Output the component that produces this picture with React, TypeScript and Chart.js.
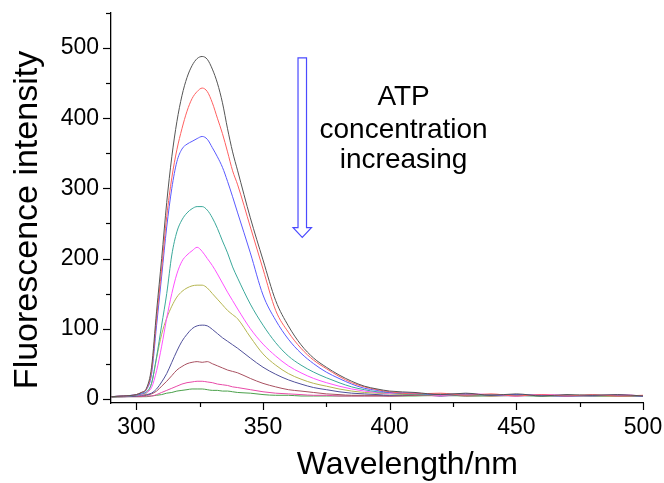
import React, { useEffect, useRef } from "react";
import { Chart, registerables } from "chart.js";

Chart.register(...registerables);

// Wavelength (nm)
const wavelengths = [290, 295, 300, 302, 304, 306, 308, 310, 312, 314, 316, 318, 320, 322, 324, 326, 328, 330, 332, 334, 336, 338, 340, 345, 350, 355, 360, 365, 370, 375, 380, 385, 390, 395, 400, 410, 420, 430, 440, 450, 460, 470, 480, 490, 500];

// Fluorescence intensity, ATP concentration increasing from s1 to s10
const s1 = [3, 4, 6, 9, 15, 45, 125, 200, 280, 345, 395, 432, 458, 475, 485, 488, 484, 470, 450, 422, 385, 352, 325, 258, 198, 140, 104, 77, 58, 45, 34, 25, 18, 14, 11, 9, 6, 8, 5, 7, 4, 6, 5, 6, 4];
const s2 = [3, 4, 6, 9, 14, 40, 115, 185, 260, 315, 355, 385, 410, 428, 438, 443, 438, 422, 400, 378, 352, 325, 305, 245, 185, 126, 95, 72, 55, 43, 32, 23, 17, 13, 10, 7, 8, 5, 7, 4, 6, 4, 6, 4, 5];
const s3 = [3, 4, 6, 8, 13, 35, 105, 175, 245, 300, 338, 356, 363, 367, 371, 374, 370, 358, 345, 330, 310, 288, 265, 208, 148, 112, 85, 65, 50, 38, 29, 21, 15, 12, 9, 8, 6, 7, 5, 6, 5, 4, 5, 5, 4];
const s4 = [3, 4, 5, 7, 10, 22, 60, 105, 150, 205, 238, 255, 265, 271, 274, 274, 269, 258, 243, 225, 208, 188, 172, 135, 105, 80, 61, 48, 38, 30, 23, 17, 13, 10, 9, 6, 7, 5, 6, 5, 4, 5, 4, 5, 4];
const s5 = [3, 4, 5, 6, 9, 16, 40, 75, 115, 150, 178, 196, 205, 211, 216, 210, 200, 190, 178, 165, 152, 140, 128, 100, 78, 61, 47, 37, 29, 23, 18, 14, 11, 9, 8, 8, 5, 7, 6, 4, 6, 5, 4, 6, 4];
const s6 = [3, 4, 5, 6, 8, 22, 58, 92, 115, 132, 145, 153, 158, 161, 162, 162, 158, 150, 142, 134, 126, 120, 114, 88, 64, 48, 36, 28, 22, 18, 14, 11, 9, 8, 7, 6, 5, 6, 4, 5, 4, 5, 4, 4, 4];
const s7 = [3, 3, 4, 5, 6, 8, 14, 24, 36, 52, 68, 82, 92, 100, 104, 105, 104, 99, 93, 87, 82, 77, 72, 58, 45, 35, 27, 21, 16, 13, 10, 8, 7, 6, 5, 6, 4, 5, 5, 4, 5, 4, 5, 4, 4];
const s8 = [3, 3, 4, 4, 5, 7, 11, 18, 25, 33, 41, 46, 50, 52, 53, 52, 53, 50, 47, 44, 41, 39, 37, 29, 22, 17, 13, 11, 9, 7, 6, 5, 5, 5, 4, 5, 6, 4, 5, 6, 4, 5, 4, 5, 4];
const s9 = [3, 3, 3, 3, 4, 4, 6, 9, 12, 15, 18, 21, 23, 24, 25, 25, 24, 23, 21, 20, 19, 17, 16, 13, 10, 8, 7, 6, 5, 5, 4, 4, 4, 4, 4, 5, 4, 6, 4, 5, 5, 4, 5, 4, 4];
const s10 = [2, 3, 3, 3, 3, 4, 5, 6, 8, 9, 11, 12, 13, 14, 14, 14, 13, 12, 12, 11, 11, 10, 9, 8, 6, 5, 5, 4, 4, 4, 4, 4, 4, 4, 4, 4, 5, 4, 4, 5, 4, 4, 4, 4, 4];

const series = [s1, s2, s3, s4, s5, s6, s7, s8, s9, s10];
const seriesColors = ["#555555", "#ff6060", "#5a5aff", "#3aa89a", "#ff50ff", "#b5b550", "#50509a", "#a85060", "#e84aa8", "#4aa04a"];

const yTickStep = 50;
const yLabelStep = 100;
const xTickStep = 25;
const xLabelStep = 50;

const xTitle = "Wavelength/nm";
const yTitle = "Fluorescence intensity";
const noteLines = ["ATP", "concentration", "increasing"];
// annotation anchors in data units
const xTitleAt = 407;
const noteX = 405.5;
const arrowX = 365.5;
const arrowTop = 486;
const arrowHeadStart = 244;
const arrowTip = 230;

const FONT = "'Liberation Sans', Arial, sans-serif";

const decorPlugin = {
  id: "decor",
  afterDraw(chart: any) {
    const { ctx, scales } = chart;
    const x = scales.x;
    const y = scales.y;
    const area = chart.chartArea;
    ctx.save();
    ctx.strokeStyle = "#000";
    ctx.lineWidth = 1.2;
    // y ticks
    for (let v = 0; v <= y.max; v += yTickStep) {
      const py = Math.round(y.getPixelForValue(v)) + 0.5;
      const len = v % yLabelStep === 0 ? 8 : 5;
      ctx.beginPath();
      ctx.moveTo(area.left, py);
      ctx.lineTo(area.left - len, py);
      ctx.stroke();
    }
    // x ticks
    for (let v = 300; v <= x.max; v += xTickStep) {
      const px = Math.round(x.getPixelForValue(v)) + 0.5;
      const len = v % xLabelStep === 0 ? 7 : 4;
      ctx.beginPath();
      ctx.moveTo(px, area.bottom);
      ctx.lineTo(px, area.bottom + len);
      ctx.stroke();
    }
    // axis titles
    ctx.fillStyle = "#000";
    ctx.textAlign = "center";
    ctx.textBaseline = "alphabetic";
    ctx.font = `32px ${FONT}`;
    ctx.fillText(xTitle, x.getPixelForValue(xTitleAt), 474);
    ctx.save();
    ctx.font = `34px ${FONT}`;
    ctx.translate(37, 220);
    ctx.rotate(-Math.PI / 2);
    ctx.fillText(yTitle, 0, 0);
    ctx.restore();

    // annotation text
    ctx.font = `28px ${FONT}`;
    const tx = x.getPixelForValue(noteX);
    const baselines = [105, 138, 168];
    noteLines.forEach((t, i) => ctx.fillText(t, tx, baselines[i]));

    // hollow arrow
    const ax = x.getPixelForValue(arrowX);
    const at = y.getPixelForValue(arrowTop);
    const ah = y.getPixelForValue(arrowHeadStart);
    const atip = y.getPixelForValue(arrowTip);
    const sw = 4.25;
    const hw = 9.2;
    ctx.strokeStyle = "#4a4aff";
    ctx.lineWidth = 1.2;
    ctx.beginPath();
    ctx.moveTo(ax - sw, at);
    ctx.lineTo(ax + sw, at);
    ctx.lineTo(ax + sw, ah);
    ctx.lineTo(ax + hw, ah);
    ctx.lineTo(ax, atip);
    ctx.lineTo(ax - hw, ah);
    ctx.lineTo(ax - sw, ah);
    ctx.closePath();
    ctx.stroke();
    ctx.restore();
  },
};

export default function App() {
  const ref = useRef<HTMLCanvasElement>(null);
  useEffect(() => {
    const chart = new Chart(ref.current as HTMLCanvasElement, {
      type: "line",
      data: {
        datasets: series.map((s, i) => ({
          label: `c${i + 1}`,
          data: wavelengths.map((w, j) => ({ x: w, y: s[j] })),
          borderColor: seriesColors[i],
          borderWidth: 1,
          pointRadius: 0,
          fill: false,
          cubicInterpolationMode: "monotone" as const,
        })),
      },
      options: {
        responsive: false,
        animation: false,
        devicePixelRatio: 1,
        layout: { padding: { top: 13, right: 21, left: 0, bottom: 0 } },
        plugins: { legend: { display: false }, tooltip: { enabled: false } },
        scales: {
          x: {
            type: "linear",
            min: 290,
            max: 500,
            grid: { display: false, drawTicks: false },
            border: { display: true, color: "#000", width: 1.3 },
            ticks: {
              stepSize: xLabelStep,
              includeBounds: false,
              autoSkip: false,
              maxRotation: 0,
              padding: 11,
              color: "#000",
              font: { family: FONT, size: 23 },
            },
            afterFit: (s: any) => {
              s.height = 80;
              s.paddingLeft = 0;
              s.paddingRight = 0;
            },
          },
          y: {
            type: "linear",
            min: -6,
            max: 550,
            grid: { display: false, drawTicks: false },
            border: { display: true, color: "#000", width: 1.3 },
            ticks: {
              stepSize: yTickStep,
              includeBounds: false,
              autoSkip: false,
              padding: 12,
              color: "#000",
              font: { family: FONT, size: 23 },
              callback: (v: any) => (v % yLabelStep === 0 && v <= 500 ? String(v) : ""),
            },
            afterFit: (s: any) => {
              s.width = 111;
              s.paddingTop = 0;
              s.paddingBottom = 0;
            },
          },
        },
      },
      plugins: [decorPlugin],
    });
    return () => chart.destroy();
  }, []);
  return (
    <div style={{ position: "absolute", left: 0, top: 0, width: 664, height: 483, background: "#fff" }}>
      <canvas ref={ref} width={664} height={483} style={{ display: "block", width: 664, height: 483 }} />
    </div>
  );
}
